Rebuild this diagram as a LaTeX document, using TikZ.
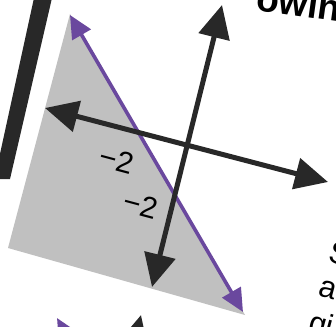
\documentclass[tikz,border=0pt]{standalone}
\usepackage{fontspec}
\setmainfont{Liberation Sans}
\usetikzlibrary{arrows.meta}
\definecolor{gshade}{RGB}{192,192,192}
\definecolor{axisc}{RGB}{40,40,40}
\definecolor{purp}{RGB}{106,72,158}
\definecolor{barc}{RGB}{40,40,40}
\begin{document}
\begin{tikzpicture}[x=1pt,y=-1pt,
  axisline/.style={draw=axisc, line width=5pt,
    {Triangle[length=33pt,width=31pt]}-{Triangle[length=33pt,width=31pt]}},
  axisend/.style={draw=axisc, line width=5pt, -{Triangle[length=33pt,width=31pt]}},
  purpline/.style={draw=purp, line width=3.6pt,
    {Triangle[length=23pt,width=21pt]}-{Triangle[length=23pt,width=21pt]}},
  purpend/.style={draw=purp, line width=3.6pt, -{Triangle[length=23pt,width=21pt]}},
  lbl/.style={font=\fontsize{30}{33}\selectfont, text=black, inner sep=0pt, rotate=-15},
  rtext/.style={font=\fontsize{31}{36}\selectfont, text=black, inner sep=0pt, anchor=base west, rotate=-15},
  ttext/.style={font=\bfseries\fontsize{37}{40}\selectfont, text=black, inner sep=0pt, anchor=base west, rotate=-8}]
\useasboundingbox (0,0) rectangle (336,326);
\clip (0,0) rectangle (336,326);
\fill[white] (0,0) rectangle (336,326);
% shaded half-plane
\fill[gshade] (70,14) -- (8,248) -- (245,315) -- cycle;
% dark bar at left
\fill[barc] (34,-2) -- (52,-2) -- (10,179) -- (-2,179) -- (-2,163) -- cycle;
% boundary line
\coordinate (pt) at (70,15);
\coordinate (pb) at (243,312);
\draw[purpline] (pb) -- (pt);
% axes
\coordinate (yt) at (222,5);
\coordinate (yb) at (152,287);
\coordinate (xl) at (45,108);
\coordinate (xr) at (328,182);
\draw[axisline] (xl) -- (xr);
\draw[axisline] (yb) -- (yt);
% tick labels
\node[lbl] (lx) at (117,160) {−2};
\node[lbl] (ly) at (141,205) {−2};
% fragments of next graph
\coordinate (p2s) at (88,372);
\coordinate (p2t) at (57,318);
\draw[purpend] (p2s) -- (p2t);
\coordinate (a2s) at (131,355);
\coordinate (a2t) at (141,315);
\draw[axisend] (a2s) -- (a2t);
% surrounding text fragments
\node[ttext] (tt) at (255,10) {owin};
\node[rtext] (r1) at (327,261) {S};
\node[rtext] (r2) at (317,295) {a};
\node[rtext] (r3) at (307,331) {gi};
\end{tikzpicture}
\end{document}
